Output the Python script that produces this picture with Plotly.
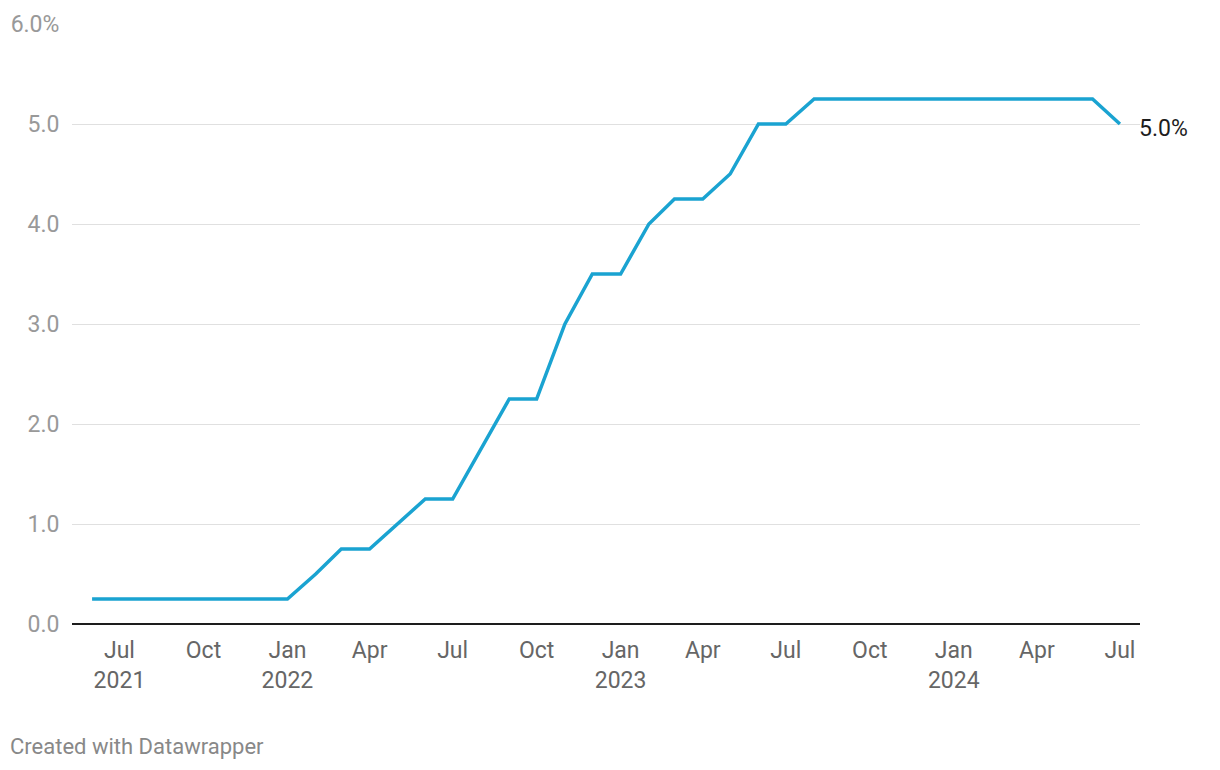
import plotly.graph_objects as go
import pandas as pd

dates = pd.date_range("2021-06-01", "2024-07-01", freq="MS").strftime("%Y-%m-%d").tolist()
rates = [0.25, 0.25, 0.25, 0.25, 0.25, 0.25, 0.25, 0.25,  # Jun 2021 - Jan 2022
         0.5, 0.75, 0.75, 1.0, 1.25, 1.25, 1.75, 2.25, 2.25, 3.0, 3.5,  # Feb - Dec 2022
         3.5, 4.0, 4.25, 4.25, 4.5, 5.0, 5.0,  # Jan - Jul 2023
         5.25, 5.25, 5.25, 5.25, 5.25, 5.25, 5.25, 5.25, 5.25, 5.25, 5.25,  # Aug 2023 - Jun 2024
         5.0]  # Jul 2024

x_tick_vals = ["2021-07-01", "2021-10-01", "2022-01-01", "2022-04-01", "2022-07-01",
               "2022-10-01", "2023-01-01", "2023-04-01", "2023-07-01", "2023-10-01",
               "2024-01-01", "2024-04-01", "2024-07-01"]
x_tick_text = ["Jul<br>2021", "Oct", "Jan<br>2022", "Apr", "Jul", "Oct", "Jan<br>2023",
               "Apr", "Jul", "Oct", "Jan<br>2024", "Apr", "Jul"]
y_tick_vals = [0, 1, 2, 3, 4, 5, 6]
y_tick_text = ["0.0", "1.0", "2.0", "3.0", "4.0", "5.0", "6.0%"]

fig = go.Figure()
fig.add_trace(go.Scatter(x=dates, y=rates, mode="lines",
                         line=dict(color="#1aa3d1", width=3.5),
                         hoverinfo="skip", showlegend=False))

fig.add_annotation(x=dates[-1], y=rates[-1], text=f"{rates[-1]:.1f}%", showarrow=False,
                   xanchor="left", yanchor="middle", xshift=17, yshift=-4,
                   font=dict(family="Roboto", size=23, color="#1d1d1d"))

fig.add_annotation(x=-0.06, y=-0.18, xref="paper", yref="paper", xanchor="left", yanchor="top",
                   text="Created with Datawrapper", showarrow=False,
                   font=dict(family="Roboto", size=22, color="#888888"))

fig.update_layout(
    width=1220, height=770,
    margin=dict(l=72, r=80, t=24, b=146),
    paper_bgcolor="white", plot_bgcolor="white",
    font=dict(family="Roboto", size=23, color="#666666"),
    xaxis=dict(range=["2021-05-10", "2024-07-23"], tickvals=x_tick_vals, ticktext=x_tick_text,
               showgrid=False, zeroline=False, showline=False, ticks="outside", ticklen=5,
               tickcolor="rgba(0,0,0,0)", tickfont=dict(color="#666666", size=23),
               automargin=False),
    yaxis=dict(range=[0, 6], tickvals=y_tick_vals, ticktext=y_tick_text,
               showgrid=True, gridcolor="#e0e0e0", gridwidth=1,
               zeroline=True, zerolinecolor="#1d1d1d", zerolinewidth=2,
               ticks="outside", ticklen=7, tickcolor="rgba(0,0,0,0)",
               tickfont=dict(color="#999999", size=23), automargin=False),
)

fig.write_html("out.html")
